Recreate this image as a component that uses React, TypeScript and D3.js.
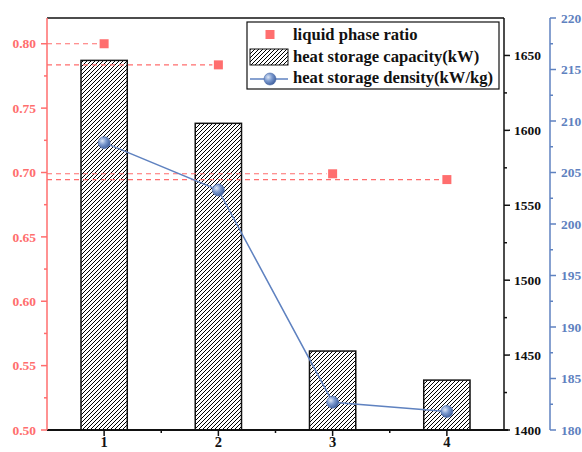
import React, { useEffect } from "react";
import * as d3 from "d3";

const categories = [1, 2, 3, 4];
const liquidPhaseRatio = [0.8, 0.7836, 0.699, 0.6945];
const heatStorageCapacity = [1646.7, 1604.7, 1452.7, 1433.3];
const heatStorageDensity = [207.9, 203.3, 182.7, 181.8];
const leftTicks = [0.5, 0.55, 0.6, 0.65, 0.7, 0.75, 0.8];
const midTicks = [1400, 1450, 1500, 1550, 1600, 1650];
const rightTicks = [180, 185, 190, 195, 200, 205, 210, 215, 220];
const legendLabels = [
  "liquid phase ratio",
  "heat storage capacity(kW)",
  "heat storage density(kW/kg)",
];

const RED = "#FF6E6E";
const BLUE = "#5F82C0";
const FONT = "'Liberation Serif', 'Times New Roman', serif";

const L = 47, R = 504, T = 18, B = 430, RA = 550;

export default function App() {
  useEffect(() => {
    document.body.style.margin = "0";
  }, []);

  const x = d3.scaleLinear().domain([0.5, 4.5]).range([L, R]);
  const yL = d3.scaleLinear().domain([0.5, 0.82]).range([B, T]);
  const yM = d3.scaleLinear().domain([1400, 1675]).range([B, T]);
  const yR = d3.scaleLinear().domain([180, 220]).range([B, T]);
  const bw = x(0.905) - x(0.5);

  const line = d3
    .line<number>()
    .x((_, i) => x(categories[i]))
    .y((d) => yR(d));

  const leftMinor = leftTicks.slice(0, -1).map((t) => t + 0.025);
  const midMinor = midTicks.map((t) => t + 25).filter((t) => t < 1675);
  const rightMinor = rightTicks.slice(0, -1).map((t) => t + 2.5);
  const xMinor = [1.5, 2.5, 3.5];

  const sphere = (cx: number, cy: number, key: string | number) => (
    <circle key={key} cx={cx} cy={cy} r={6} fill="url(#sph)" stroke="#4A6AA8" strokeWidth={0.6} />
  );

  return (
    <svg width={582} height={452} style={{ display: "block" }} fontFamily={FONT} fontWeight="bold">
      <defs>
        <pattern id="hatch" patternUnits="userSpaceOnUse" width={4} height={4}>
          <rect width={4} height={4} fill="white" />
          <path d="M-1,1 L1,-1 M0,4 L4,0 M3,5 L5,3" stroke="#000" strokeWidth={1} />
        </pattern>
        <radialGradient id="sph" cx="0.35" cy="0.35" r="0.7">
          <stop offset="0" stopColor="#DDE6F5" />
          <stop offset="0.45" stopColor="#7E9CD0" />
          <stop offset="1" stopColor="#3E5E9C" />
        </radialGradient>
      </defs>
      <rect width={582} height={452} fill="white" />

      {/* bars */}
      {heatStorageCapacity.map((v, i) => (
        <rect
          key={"b" + i}
          x={x(categories[i]) - bw / 2}
          y={yM(v)}
          width={bw}
          height={B - yM(v)}
          fill="url(#hatch)"
          stroke="#111"
          strokeWidth={1.5}
        />
      ))}

      {/* dashed reference lines */}
      {liquidPhaseRatio.map((v, i) => (
        <line
          key={"d" + i}
          x1={L}
          x2={x(categories[i]) - 6}
          y1={yL(v)}
          y2={yL(v)}
          stroke={RED}
          strokeWidth={1.1}
          strokeDasharray="5,4"
        />
      ))}

      {/* line series */}
      <path d={line(heatStorageDensity) || ""} fill="none" stroke={BLUE} strokeWidth={1.5} />
      {heatStorageDensity.map((v, i) => sphere(x(categories[i]), yR(v), "s" + i))}

      {/* red squares */}
      {liquidPhaseRatio.map((v, i) => (
        <rect key={"q" + i} x={x(categories[i]) - 4.5} y={yL(v) - 4.5} width={9} height={9} fill={RED} />
      ))}

      {/* frame */}
      <line x1={L} x2={R} y1={T} y2={T} stroke="#111" strokeWidth={1.5} />
      <line x1={R} x2={R} y1={T} y2={B} stroke="#111" strokeWidth={1.5} />
      <line x1={L} x2={R + 4} y1={B} y2={B} stroke="#111" strokeWidth={2} />

      {/* x axis */}
      {categories.map((c) => (
        <g key={"x" + c}>
          <line x1={x(c)} x2={x(c)} y1={B} y2={B + 6} stroke="#111" strokeWidth={1.5} />
          <text x={x(c)} y={B + 17} textAnchor="middle" fontSize={14.5} fill="#111">
            {c}
          </text>
        </g>
      ))}
      {xMinor.map((c) => (
        <line key={"xm" + c} x1={x(c)} x2={x(c)} y1={B} y2={B + 3} stroke="#111" strokeWidth={1.5} />
      ))}

      {/* left axis */}
      <line x1={L} x2={L} y1={T} y2={B} stroke={RED} strokeWidth={1.5} />
      {leftTicks.map((t) => (
        <g key={"l" + t}>
          <line x1={L - 6} x2={L} y1={yL(t)} y2={yL(t)} stroke={RED} strokeWidth={1.5} />
          <text x={L - 11} y={yL(t)} dy="0.35em" textAnchor="end" fontSize={13.5} fill={RED}>
            {t.toFixed(2)}
          </text>
        </g>
      ))}
      {leftMinor.map((t) => (
        <line key={"lm" + t} x1={L - 3} x2={L} y1={yL(t)} y2={yL(t)} stroke={RED} strokeWidth={1.5} />
      ))}

      {/* middle axis */}
      {midTicks.map((t) => (
        <g key={"m" + t}>
          <line x1={R} x2={R + 6} y1={yM(t)} y2={yM(t)} stroke="#111" strokeWidth={1.5} />
          <text x={R + 10} y={yM(t)} dy="0.35em" textAnchor="start" fontSize={13.5} fill="#111">
            {t}
          </text>
        </g>
      ))}
      {midMinor.map((t) => (
        <line key={"mm" + t} x1={R} x2={R + 3} y1={yM(t)} y2={yM(t)} stroke="#111" strokeWidth={1.5} />
      ))}

      {/* right axis */}
      <line x1={RA} x2={RA} y1={T} y2={B} stroke={BLUE} strokeWidth={1.5} />
      {rightTicks.map((t) => (
        <g key={"r" + t}>
          <line x1={RA} x2={RA + 6} y1={yR(t)} y2={yR(t)} stroke={BLUE} strokeWidth={1.5} />
          <text x={RA + 11} y={yR(t)} dy="0.35em" textAnchor="start" fontSize={13.5} fill={BLUE}>
            {t}
          </text>
        </g>
      ))}
      {rightMinor.map((t) => (
        <line key={"rm" + t} x1={RA} x2={RA + 3} y1={yR(t)} y2={yR(t)} stroke={BLUE} strokeWidth={1.5} />
      ))}

      {/* legend */}
      <g>
        <rect x={247} y={22} width={252} height={67} fill="white" stroke="#111" strokeWidth={1.2} />
        <rect x={265.5} y={30} width={9} height={9} fill={RED} />
        <rect x={250} y={49} width={38} height={16} fill="url(#hatch)" stroke="#111" strokeWidth={1} />
        <line x1={250} x2={288} y1={79} y2={79} stroke={BLUE} strokeWidth={1.5} />
        {sphere(270, 79, "lg")}
        {legendLabels.map((s, i) => (
          <text key={"t" + i} x={293} y={40 + i * 21.5} fontSize={16.6} fill="#111">
            {s}
          </text>
        ))}
      </g>
    </svg>
  );
}
